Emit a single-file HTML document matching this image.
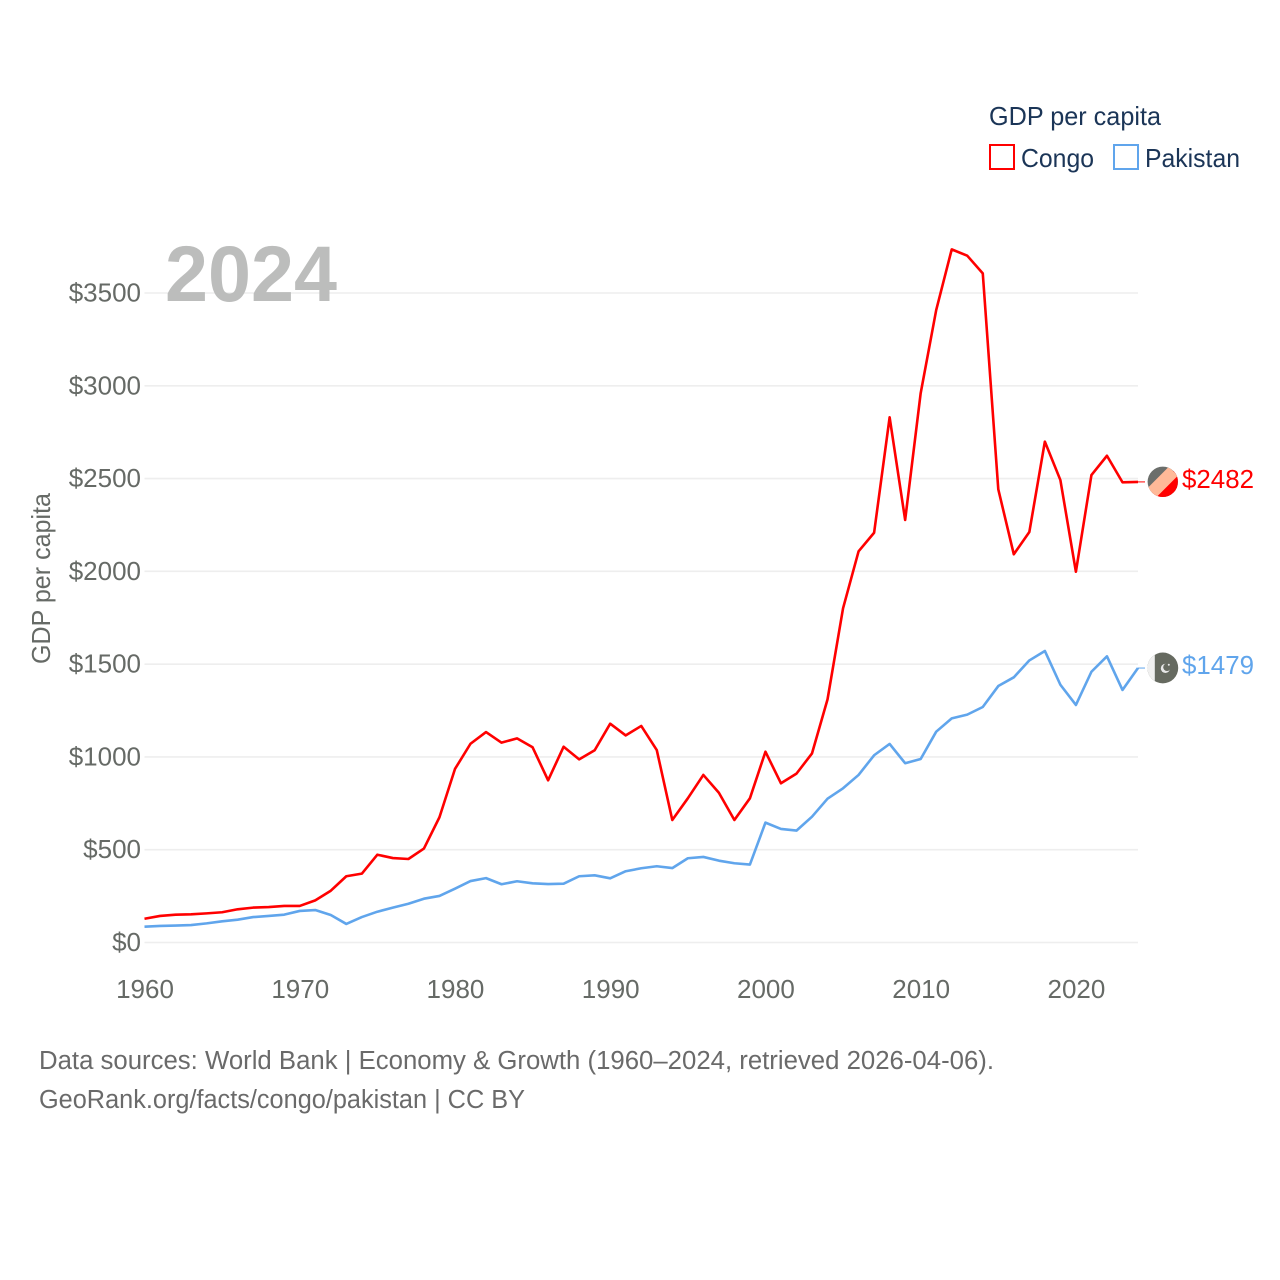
<!DOCTYPE html>
<html lang="en">
<head>
<meta charset="utf-8">
<title>GDP per capita: Congo and Pakistan</title>
<style>
html,body{margin:0;padding:0;background:#fff;width:1280px;height:1280px;overflow:hidden}
svg{display:block}
text{font-family:"Liberation Sans",sans-serif}
.tick{font-size:26px;fill:#666a66}
.legend-text{font-size:26px;fill:#1b3557}
.foot{font-size:25.5px;fill:#6a6a6a}
</style>
</head>
<body>
<svg id="chart" xmlns="http://www.w3.org/2000/svg" width="1280" height="1280" viewBox="0 0 1280 1280">
  <rect width="1280" height="1280" fill="#fff"/>
  <defs>
    <clipPath id="congo-clip"><circle cx="0" cy="0" r="15.2"/></clipPath>
    <clipPath id="pakistan-clip"><circle cx="0" cy="0" r="15.4"/></clipPath>
  </defs>
  <g id="grid"></g>
  <text id="year" x="165" y="301" font-size="79" font-weight="700" fill="#bcbdbc" textLength="172" lengthAdjust="spacingAndGlyphs">2024</text>
  <g id="y-ticks"></g>
  <g id="x-ticks"></g>
  <g id="series"></g>
  <g id="ends"></g>
  <text class="tick" transform="translate(50,664) rotate(-90)" textLength="171" lengthAdjust="spacingAndGlyphs">GDP per capita</text>

  <g>
    <text class="legend-text" x="989" y="125" textLength="172" lengthAdjust="spacingAndGlyphs">GDP per capita</text>
    <g>
      <rect x="990" y="145" width="24" height="24" fill="none" stroke="#ff0000" stroke-width="2"/>
      <text class="legend-text" x="1021" y="167" textLength="73" lengthAdjust="spacingAndGlyphs">Congo</text>
    </g>
    <g>
      <rect x="1114" y="145" width="24" height="24" fill="none" stroke="#60a5ec" stroke-width="2"/>
      <text class="legend-text" x="1145" y="167" textLength="95" lengthAdjust="spacingAndGlyphs">Pakistan</text>
    </g>
  </g>

  <text class="foot" x="39" y="1069" textLength="955" lengthAdjust="spacingAndGlyphs">Data sources: World Bank | Economy &amp; Growth (1960–2024, retrieved 2026-04-06).</text>
  <a>
    <text class="foot" x="39" y="1108" textLength="486" lengthAdjust="spacingAndGlyphs">GeoRank.org/facts/congo/pakistan | CC BY</text>
  </a>
</svg>
<script>
const years = [1960,1961,1962,1963,1964,1965,1966,1967,1968,1969,1970,1971,1972,1973,1974,1975,1976,1977,1978,1979,1980,1981,1982,1983,1984,1985,1986,1987,1988,1989,1990,1991,1992,1993,1994,1995,1996,1997,1998,1999,2000,2001,2002,2003,2004,2005,2006,2007,2008,2009,2010,2011,2012,2013,2014,2015,2016,2017,2018,2019,2020,2021,2022,2023,2024];
const congoValues = [128,143,150,152,157,163,179,188,191,197,197,227,279,357,371,473,455,450,506,675,935,1071,1134,1077,1100,1052,874,1055,987,1036,1179,1116,1167,1037,660,777,903,807,660,777,1028,858,910,1019,1310,1801,2108,2208,2830,2277,2960,3408,3735,3701,3606,2442,2092,2212,2699,2492,1998,2519,2623,2480,2482];
const pakistanValues = [85,89,91,94,103,114,123,137,143,150,170,175,148,100,137,166,188,209,236,251,290,331,347,314,330,319,315,317,357,362,346,384,400,411,401,454,461,441,427,420,646,612,603,678,775,831,903,1009,1070,966,989,1136,1208,1228,1269,1382,1429,1520,1571,1389,1280,1459,1542,1361,1479];
const yTickValues = [0,500,1000,1500,2000,2500,3000,3500];
const yTickLabels = ["$0","$500","$1000","$1500","$2000","$2500","$3000","$3500"];
const xTickValues = [1960,1970,1980,1990,2000,2010,2020];
const xTickLabels = ["1960","1970","1980","1990","2000","2010","2020"];

const NS = "http://www.w3.org/2000/svg";
const X0 = 144.5, X1 = 1138, Y0 = 942.5, YPX = 649.5 / 3500;
function xScale(year){ return X0 + (year - years[0]) * (X1 - X0) / (years[years.length - 1] - years[0]); }
function yScale(value){ return Y0 - value * YPX; }
function make(tag, parent){
  const el = document.createElementNS(NS, tag);
  parent.appendChild(el);
  return el;
}

const grid = document.getElementById("grid");
const yTicks = document.getElementById("y-ticks");
yTickValues.forEach(function(v, i){
  const line = make("line", grid);
  
  
  line.setAttribute("x1", X0);
  line.setAttribute("x2", X1);
  line.setAttribute("y1", yScale(v));
  line.setAttribute("y2", yScale(v));
  line.setAttribute("stroke", "#eeeeee");
  line.setAttribute("stroke-width", "1.6");
  const t = make("text", yTicks);
  
  
  t.setAttribute("class", "tick");
  t.setAttribute("x", 141);
  t.setAttribute("y", yScale(v) + 8.5);
  t.setAttribute("text-anchor", "end");
  t.textContent = yTickLabels[i];
});

const xTicks = document.getElementById("x-ticks");
xTickValues.forEach(function(v, i){
  const t = make("text", xTicks);
  
  
  t.setAttribute("class", "tick");
  t.setAttribute("x", xScale(v) + 0.5);
  t.setAttribute("y", 998);
  t.setAttribute("text-anchor", "middle");
  t.textContent = xTickLabels[i];
});

function pathFor(values){
  return values.map(function(v, i){
    return (i ? "L" : "M") + xScale(years[i]).toFixed(2) + " " + yScale(v).toFixed(2);
  }).join(" ");
}
const seriesGroup = document.getElementById("series");
const pakistanLine = make("path", seriesGroup);


pakistanLine.setAttribute("d", pathFor(pakistanValues));
pakistanLine.setAttribute("fill", "none");
pakistanLine.setAttribute("stroke", "#60a5ec");
pakistanLine.setAttribute("stroke-width", "2.6");
pakistanLine.setAttribute("stroke-linejoin", "round");
const congoLine = make("path", seriesGroup);


congoLine.setAttribute("d", pathFor(congoValues));
congoLine.setAttribute("fill", "none");
congoLine.setAttribute("stroke", "#ff0000");
congoLine.setAttribute("stroke-width", "2.6");
congoLine.setAttribute("stroke-linejoin", "round");

const ends = document.getElementById("ends");
const congoLast = congoValues[congoValues.length - 1];
const pakistanLast = pakistanValues[pakistanValues.length - 1];

const congoConn = make("line", ends);


congoConn.setAttribute("x1", X1);
congoConn.setAttribute("x2", 1145);
congoConn.setAttribute("y1", yScale(congoLast));
congoConn.setAttribute("y2", yScale(congoLast));
congoConn.setAttribute("stroke", "#ff0000");
congoConn.setAttribute("stroke-width", "1");

const pakConn = make("line", ends);


pakConn.setAttribute("x1", X1);
pakConn.setAttribute("x2", 1145);
pakConn.setAttribute("y1", yScale(pakistanLast));
pakConn.setAttribute("y2", yScale(pakistanLast));
pakConn.setAttribute("stroke", "#60a5ec");
pakConn.setAttribute("stroke-width", "1");

const congoFlag = make("g", ends);


congoFlag.setAttribute("transform", "translate(1162.8," + (yScale(congoLast) - 0.1) + ")");
congoFlag.setAttribute("clip-path", "url(#congo-clip)");
congoFlag.innerHTML = '<rect x="-16" y="-16" width="32" height="32" fill="#6b6e6b"/>' +
  '<polygon points="16,-16 16,16 -16,16" fill="#ff0000" transform="translate(-1,1)"/>' +
  '<polygon points="7,-16 16,-7 -7,16 -16,7" fill="#ffb998" transform="translate(-1,1)"/>';

const pakFlag = make("g", ends);


pakFlag.setAttribute("transform", "translate(1162.8," + (yScale(pakistanLast) - 0.1) + ")");
pakFlag.setAttribute("clip-path", "url(#pakistan-clip)");
pakFlag.innerHTML = '<rect x="-16" y="-16" width="32" height="32" fill="#666a60"/>' +
  '<rect x="-16" y="-16" width="8" height="32" fill="#f0f0f0"/>' +
  '<circle cx="2.6" cy="0.4" r="4.6" fill="#e8e8e8"/><circle cx="4.2" cy="-0.8" r="3.8" fill="#666a60"/>' +
  '<circle cx="6" cy="-3.2" r="1" fill="#e8e8e8"/>';

const congoLabel = make("text", ends);


congoLabel.setAttribute("x", 1182);
congoLabel.setAttribute("y", 488);
congoLabel.setAttribute("font-size", "26");
congoLabel.setAttribute("fill", "#ff0000");
congoLabel.setAttribute("textLength", "72");
congoLabel.setAttribute("lengthAdjust", "spacingAndGlyphs");
congoLabel.textContent = "$" + congoLast;

const pakLabel = make("text", ends);


pakLabel.setAttribute("x", 1182);
pakLabel.setAttribute("y", 674);
pakLabel.setAttribute("font-size", "26");
pakLabel.setAttribute("fill", "#60a5ec");
pakLabel.setAttribute("textLength", "72");
pakLabel.setAttribute("lengthAdjust", "spacingAndGlyphs");
pakLabel.textContent = "$" + pakistanLast;
</script>
</body>
</html>
